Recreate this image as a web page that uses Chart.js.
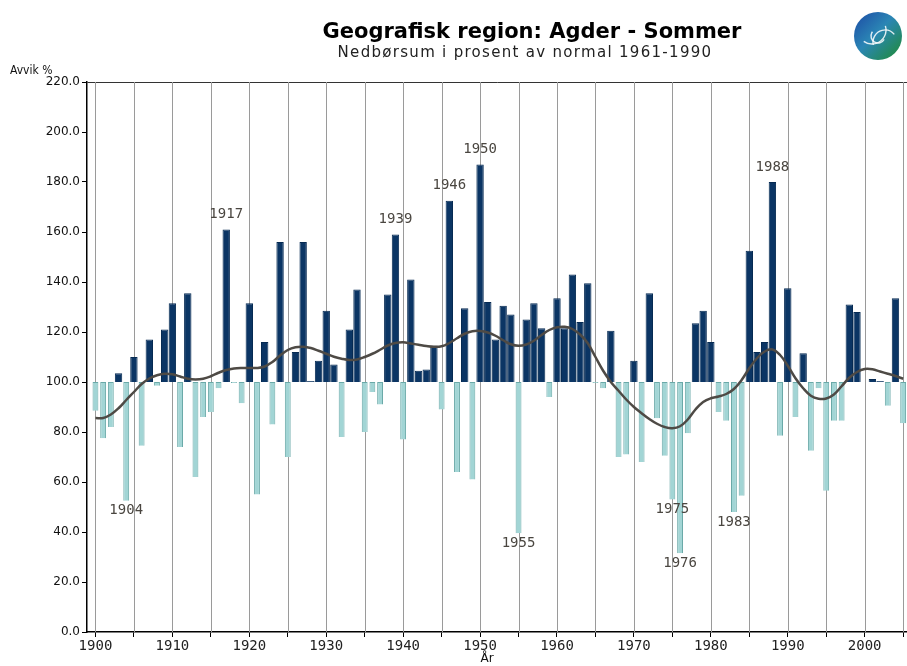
<!DOCTYPE html>
<html><head><meta charset="utf-8">
<script src="https://cdn.jsdelivr.net/npm/chart.js@4/dist/chart.umd.min.js"></script>
<style>html,body{margin:0;padding:0;background:#fff;}#wrap{width:907px;height:666px;position:relative;}</style>
</head><body><div id="wrap"><canvas id="c" width="907" height="666"></canvas></div>
<script>
const years = [1900,1901,1902,1903,1904,1905,1906,1907,1908,1909,
1910,1911,1912,1913,1914,1915,1916,1917,1918,1919,
1920,1921,1922,1923,1924,1925,1926,1927,1928,1929,
1930,1931,1932,1933,1934,1935,1936,1937,1938,1939,
1940,1941,1942,1943,1944,1945,1946,1947,1948,1949,
1950,1951,1952,1953,1954,1955,1956,1957,1958,1959,
1960,1961,1962,1963,1964,1965,1966,1967,1968,1969,
1970,1971,1972,1973,1974,1975,1976,1977,1978,1979,
1980,1981,1982,1983,1984,1985,1986,1987,1988,1989,
1990,1991,1992,1993,1994,1995,1996,1997,1998,1999,
2000,2001,2002,2003,2004,2005];

// Precipitation sum, % of normal 1961-1990
const precip = [88.5,77.5,82,103.5,52.5,110,74.5,117,98.5,121,
131.5,74,135.5,62,86,88,97.5,161,99.6,91.5,
131.5,55,116,83,156,70,112,156,100.4,108.5,
128.5,107,78,121,137,80,96,91,135,159,
77,141,104.5,105,114.5,89,172.5,64,129.5,61,
187,132,117,130.5,127,39.5,125,131.5,121.5,94,
133.5,121.5,143,124,139.5,99.6,97.5,120.5,70,71,
108.5,68,135.5,85.5,70.5,53,31.5,79.5,123.5,128.5,
116,88,84.5,48,54.5,152.5,112,116,180,78.5,
137.5,86,111.5,72.5,97.5,56.5,84.5,84.5,131,128,
100,101.2,100.4,90.5,133.5,83.5];

// Smoothed curve
const smooth = [85.6,85.6,87,89.5,92.8,96,99.2,101.4,102.7,103.3,
103.1,102.2,101.3,101,101.3,102.3,103.7,104.8,105.4,105.6,
105.6,105.6,106.2,108,110.6,112.8,113.9,114.1,113.6,112.5,
111.3,110.1,109.3,108.8,109,110,111.3,112.9,114.6,115.6,
115.9,115.4,114.9,114.4,114.1,114.3,115.6,117.5,119.3,120.3,
120.4,119.8,118.5,116.7,115.1,114.5,115,116.5,118.8,120.8,
121.9,122.1,121.2,119,115.5,110,104.5,100,96.5,93,
90,87.5,85.2,83.3,82,81.5,82.3,85,89,92,
93.5,94.2,95.2,97.2,100.8,105.5,109.5,112.2,113,110.8,
106.5,101.5,97.5,94.5,93.3,93.4,95,98.3,101.7,104,
105.2,105.1,104.2,103.3,102.4,101.3];

const labeledYears = [1904,1917,1939,1946,1950,1955,1975,1976,1983,1988];
const normal = 100;
const yTicks = [0,20,40,60,80,100,120,140,160,180,200,220];

const aboveData = [];
const belowData = [];
years.forEach((yr,i)=>{
  const v = precip[i];
  if (v >= normal) aboveData.push({x:yr, y:[normal, v]});
  else belowData.push({x:yr, y:[normal, v]});
});
const lineData = years.map((yr,i)=>({x:yr, y:smooth[i]}));

const decor = {
  id:'decor',
  beforeDatasetsDraw(chart){
    const c = chart.ctx, xs = chart.scales.x, a = chart.chartArea;
    c.save();
    c.globalAlpha = 1;
    c.setLineDash([]);
    c.strokeStyle = '#9a9a9a';
    c.lineWidth = 1;
    xs.ticks.forEach(t=>{
      const px = Math.round(xs.getPixelForValue(t.value)) + 0.5;
      c.beginPath(); c.moveTo(px, a.top); c.lineTo(px, a.bottom); c.stroke();
    });
    c.restore();
  },
  afterDatasetsDraw(chart){
    const c = chart.ctx, xs = chart.scales.x, ys = chart.scales.y;
    c.save();
    c.font = '14px "DejaVu Sans Mono"';
    c.fillStyle = '#4a4640';
    c.textAlign = 'center';
    labeledYears.forEach(yr=>{
      const v = precip[years.indexOf(yr)];
      const px = xs.getPixelForValue(yr);
      const py = ys.getPixelForValue(v);
      if (v >= normal) { c.textBaseline='bottom'; c.fillText(String(yr), px, py-8); }
      else { c.textBaseline='top'; c.fillText(String(yr), px, py+3); }
    });
    c.restore();
  },
  afterDraw(chart){
    const c = chart.ctx;
    c.save();
    // logo
    const g = c.createLinearGradient(856, 14, 900, 58);
    g.addColorStop(0, '#1d4fa6'); g.addColorStop(0.45, '#2b86b5'); g.addColorStop(1, '#1f8b3a');
    c.beginPath(); c.arc(878, 36, 24, 0, Math.PI*2); c.fillStyle = g; c.fill();
    c.strokeStyle = 'rgba(255,255,255,0.85)'; c.lineWidth = 1.4;
    c.beginPath(); c.arc(872, 30, 14, -0.3, 2.2); c.stroke();
    c.beginPath(); c.arc(885, 42, 12, 2.9, 5.6); c.stroke();
    c.beginPath(); c.arc(878, 36, 7, 0.5, 3.8); c.stroke();
    // texts
    c.fillStyle = '#000';
    c.textAlign = 'center';
    c.textBaseline = 'middle';
    c.font = 'bold 21px "DejaVu Sans"';
    c.fillText('Geografisk region: Agder - Sommer', 532, 33);
    c.textAlign = 'left';
    c.font = '12px "DejaVu Sans Condensed", "DejaVu Sans"';
    c.fillStyle = '#111';
    c.fillText('Avvik %', 10, 71);
    c.textAlign = 'center';
    c.font = '12px "DejaVu Sans"';
    c.fillText('År', 487, 659);
    c.letterSpacing = '1.3px';
    c.font = '15px "DejaVu Sans"';
    c.fillStyle = '#222';
    c.fillText('Nedbørsum i prosent av normal 1961-1990', 525, 53);
    c.letterSpacing = '0px';
    c.restore();
  }
};

new Chart(document.getElementById('c'), {
  data: {
    datasets: [
      {type:'line', data: lineData, borderColor:'#4e4a45', borderWidth:2.5, pointRadius:0, tension:0.4, fill:false, order:0},
      {type:'bar', data: aboveData, backgroundColor:'#0b3564', borderColor:'#062a52', borderWidth:1,
       barPercentage:0.96, categoryPercentage:1, grouped:false, order:1},
      {type:'bar', data: belowData, backgroundColor:'#a2d5d5', borderColor:'#6aa9a8', borderWidth:1,
       barPercentage:0.76, categoryPercentage:1, grouped:false, order:1}
    ]
  },
  options: {
    responsive:false, animation:false,
    layout:{padding:{top:82,left:0,right:0,bottom:0}},
    plugins:{legend:{display:false}, tooltip:{enabled:false}, title:{display:false}},
    scales:{
      x:{type:'linear', min:1898.9, max:2005.5, offset:false,
        ticks:{stepSize:5, includeBounds:false, autoSkip:false, maxRotation:0, minRotation:0,
          callback:v=> (v%10===0 ? String(v) : ''),
          font:{family:'DejaVu Sans Mono', size:14}, color:'#222', padding:1},
        grid:{offset:false, drawOnChartArea:false, tickLength:5, tickColor:'#000', color:'#000'},
        border:{color:'#000', width:1.5},
        afterFit:s=>{s.height=34;}},
      y:{type:'linear', min:0, max:220,
        afterBuildTicks:s=>{s.ticks = yTicks.map(v=>({value:v}));},
        ticks:{callback:v=>Number(v).toFixed(1), font:{family:'DejaVu Sans', size:12}, color:'#111', padding:2},
        grid:{offset:false, color:ctx=> (ctx.tick && ctx.tick.value===220 ? '#333' : 'rgba(0,0,0,0)'), tickColor:'#000', tickLength:5, drawOnChartArea:true},
        border:{color:'#000', width:1.5},
        afterFit:s=>{s.width=87;}}
    }
  },
  plugins:[decor]
});
</script></body></html>
